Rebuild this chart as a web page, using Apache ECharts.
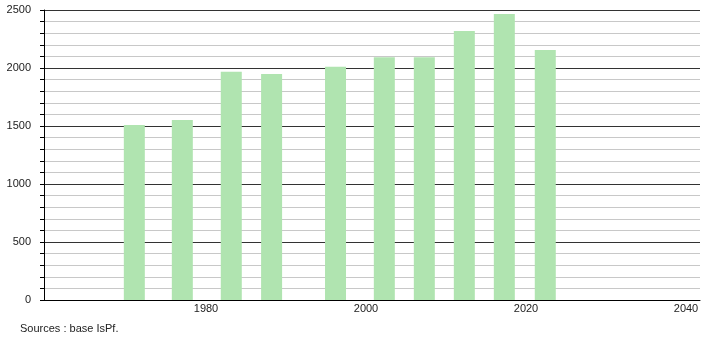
<!DOCTYPE html>
<html>
<head>
<meta charset="utf-8">
<script src="https://cdn.jsdelivr.net/npm/echarts@6/dist/echarts.min.js"></script>
<style>html,body{margin:0;padding:0;background:#fff;}#c{width:710px;height:340px;}</style>
</head>
<body>
<div id="c"></div>
<script>
// Census years (positions as decimal years)
const years = [1971.04, 1977.04, 1983.16, 1988.2, 1996.19, 2002.29, 2007.29, 2012.29, 2017.29, 2022.41];
// Population values
const population = [1509, 1552, 1968, 1948, 2011, 2092, 2092, 2319, 2466, 2155];
// Tick labels
const xTicks = [1980, 2000, 2020, 2040];
const yTicks = [0, 500, 1000, 1500, 2000, 2500];
const sourceText = 'Sources : base IsPf.';

const chart = echarts.init(document.getElementById('c'), null, {renderer: 'canvas'});
const font = 'Liberation Sans, Arial, sans-serif';
chart.setOption({
  animation: false,
  backgroundColor: '#fff',
  title: {
    text: sourceText,
    left: 15, top: 318,
    textStyle: {fontFamily: font, fontSize: 11, fontWeight: 'normal', color: '#222'}
  },
  grid: {left: 44, right: 10, top: 10, bottom: 40, containLabel: false},
  xAxis: {
    type: 'value',
    min: 1959.75, max: 2041.75,
    axisLine: {show: true, onZero: false, lineStyle: {color: '#000', width: 1}},
    axisTick: {show: false},
    splitLine: {show: false},
    axisLabel: {
      customValues: xTicks,
      margin: 3,
      fontFamily: font, fontSize: 11, color: '#222',
      formatter: v => String(v)
    }
  },
  yAxis: {
    type: 'value',
    min: yTicks[0], max: yTicks[yTicks.length - 1], interval: 500,
    axisLine: {show: true, lineStyle: {color: '#000', width: 1}},
    axisTick: {show: true, length: 4, lineStyle: {color: '#000'}},
    minorTick: {show: true, splitNumber: 5, length: 4, lineStyle: {color: '#000'}},
    splitLine: {show: true, lineStyle: {color: '#333', width: 1}},
    minorSplitLine: {show: true, lineStyle: {color: '#c8c8c8', width: 1}},
    axisLabel: {margin: 13, fontFamily: font, fontSize: 11, color: '#222', formatter: v => String(v)}
  },
  series: [{
    type: 'bar',
    barWidth: 21,
    itemStyle: {color: '#b0e4b0'},
    data: years.map((y, i) => [y, population[i]])
  }]
});
</script>
</body>
</html>
